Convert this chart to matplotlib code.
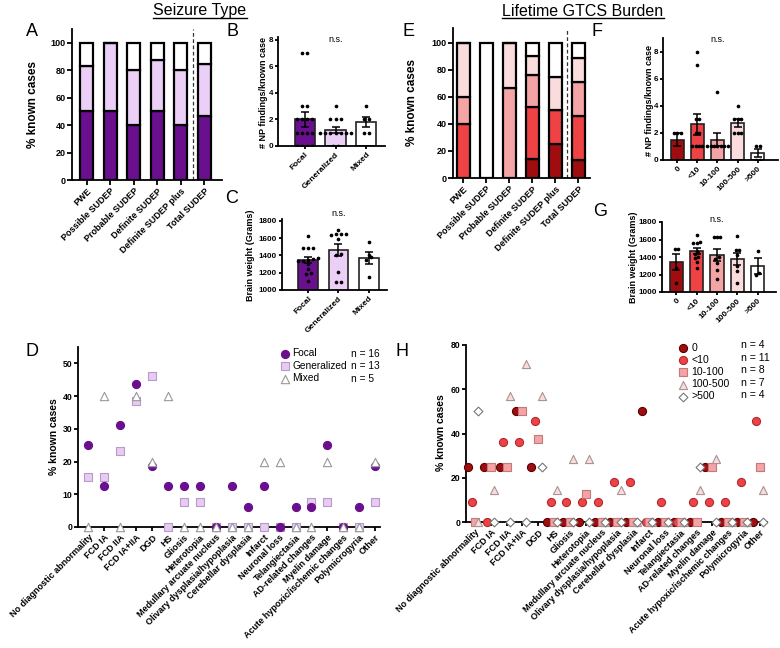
import numpy as np
import matplotlib
matplotlib.use("Agg")
import matplotlib.pyplot as plt
from matplotlib.lines import Line2D

plt.rcParams["font.family"] = ["Liberation Sans", "DejaVu Sans"]

W, H = 780, 648

# ---------------- data ----------------
stages = ["PWE", "Possible SUDEP", "Probable SUDEP", "Definite SUDEP",
          "Definite SUDEP plus", "Total SUDEP"]

# panel A: % known cases by seizure type
a_focal = [50.0, 50.0, 40.0, 50.0, 40.0, 46.4]
a_gen = [33.3, 50.0, 40.0, 37.5, 40.0, 38.2]
a_mixed = [16.7, 0.0, 20.0, 12.5, 20.0, 15.4]

seiz_types = ["Focal", "Generalized", "Mixed"]
# panel B: NP findings per known case
b_focal = [7, 7, 3, 3, 2, 2, 2, 2, 1, 1, 1, 1, 0, 0, 0, 0]
b_gen = [3, 2, 2, 2, 1, 1, 1, 1, 1, 1, 1, 0, 0]
b_mixed = [3, 2, 2, 1, 1]
# panel C: brain weight (g)
c_focal = [1620, 1480, 1480, 1480, 1370, 1360, 1350, 1340, 1340, 1300,
           1240, 1200, 1180, 1100]
c_gen = [1690, 1650, 1650, 1650, 1640, 1590, 1410, 1400, 1210, 1090, 1090]
c_mixed = [1560, 1400, 1380, 1350, 1150]

findings = ["No diagnostic abnormality", "FCD IA", "FCD IIA", "FCD IA+IIA",
            "DGD", "HS", "Gliosis", "Heterotopia", "Medullary arcuate nucleus",
            "Olivary dysplasia/hypoplasia", "Cerebellar dysplasia", "Infarct",
            "Neuronal loss", "Telangiectasia", "AD-related changes",
            "Myelin damage", "Acute hypoxic/ischemic changes",
            "Polymicrogyria", "Other"]

# panel D
d_focal = [25, 12.5, 31.25, 43.75, 18.75, 12.5, 12.5, 12.5, 0, 12.5, 6.25,
           12.5, 0, 6.25, 6.25, 25, 0, 6.25, 18.75]
d_gen = [15.38, 15.38, 23.08, 38.46, 46.15, 0, 7.69, 7.69, 0, 0, 0, 0, 0, 0,
         7.69, 7.69, 0, 0, 7.69]
d_mixed = [0, 40, 0, 40, 20, 40, 0, 0, 0, 0, 0, 20, 20, 0, 0, 20, 0, 0, 20]
d_n = [16, 13, 5]

burden = ["0", "<10", "10-100", "100-500", ">500"]
# panel E: % known cases by lifetime GTCS burden (columns follow `burden`)
e_vals = [
    [0, 40, 20, 40, 0],
    [0, 0, 0, 0, 100],
    [0, 0, 66.7, 33.3, 0],
    [14.3, 38.1, 23.8, 14.3, 9.5],
    [25, 25, 0, 25, 25],
    [13.3, 32.5, 25, 18.2, 11.0],
]
# panel F
f_pts = [
    [2, 2, 2, 0],
    [8, 7, 3, 3, 2, 2, 1, 1, 1, 1, 0],
    [5, 1, 1, 1, 1, 1, 1, 1],
    [4, 3, 3, 3, 2, 2, 2],
    [1, 1, 0, 0],
]
# panel G
g_pts = [
    [1490, 1490, 1280, 1100],
    [1650, 1570, 1560, 1560, 1470, 1450, 1430, 1400, 1390, 1340, 1280],
    [1630, 1630, 1630, 1400, 1380, 1330, 1250, 1150],
    [1640, 1480, 1480, 1420, 1300, 1240, 1100],
    [1470, 1220, 1200],
]
# panel H
h_vals = [
    [25, 25, 25, 50, 25, 0, 0, 0, 0, 0, 0, 50, 0, 0, 0, 25, 0, 0, 0],
    [9.09, 0, 36.36, 36.36, 45.45, 9.09, 9.09, 9.09, 9.09, 18.18, 18.18, 0,
     9.09, 0, 9.09, 9.09, 9.09, 18.18, 45.45],
    [0, 25, 25, 50, 37.5, 0, 0, 12.5, 0, 0, 0, 0, 0, 0, 0, 25, 0, 0, 25],
    [0, 14.29, 57.14, 71.43, 57.14, 14.29, 28.57, 28.57, 0, 14.29, 0, 0, 0, 0,
     14.29, 28.57, 0, 0, 14.29],
    [50, 0, 0, 0, 25, 0, 0, 0, 0, 0, 0, 0, 0, 0, 25, 0, 0, 0, 0],
]
h_n = [4, 11, 8, 7, 4]

# ---------------- style ----------------
purple = "#6A0F8E"
lavender = "#EBCFF7"
seiz_cols = [purple, lavender, "white"]
red_cols = ["#A00D10", "#EF4245", "#F5A4A6", "#FADCDD", "white"]
red_edges = ["#5A0000", "#B02A2D", "#C47A7D", "#A89496", "#777777"]
red_markers = ["o", "o", "s", "^", "D"]
h_offsets = [-0.44, -0.22, 0.0, 0.21, 0.21]

fig = plt.figure(figsize=(W / 100, H / 100), dpi=100)


def add_ax(x0, y0, x1, y1):
    return fig.add_axes([x0 / W, 1 - y1 / H, (x1 - x0) / W, (y1 - y0) / H])


def style(ax, fs=6.5, tl=3.5):
    for s in ["top", "right"]:
        ax.spines[s].set_visible(False)
    for s in ["left", "bottom"]:
        ax.spines[s].set_linewidth(1.3)
    ax.tick_params(direction="out", length=tl, width=1.3, labelsize=fs, pad=1.2)
    for lab in ax.get_xticklabels() + ax.get_yticklabels():
        lab.set_fontweight("bold")


def rot_labels(ax, labels, fs=6.5):
    ax.set_xticklabels(labels, rotation=45, ha="right", rotation_mode="anchor",
                       fontsize=fs, fontweight="bold")


def ylab(text, xpx, ypx, fs=8):
    fig.text(xpx / W, 1 - ypx / H, text, rotation=90, ha="center", va="center",
             fontsize=fs, fontweight="bold")


def letter(text, xpx, ypx):
    fig.text(xpx / W, 1 - ypx / H, text, ha="center", va="center", fontsize=13)


def swarm(vals, step, tol):
    vals = np.asarray(vals, float)
    order = np.argsort(vals)
    offs = np.zeros(len(vals))
    groups, cur = [], [order[0]]
    for i in order[1:]:
        if vals[i] - vals[cur[0]] <= tol:
            cur.append(i)
        else:
            groups.append(cur)
            cur = [i]
    groups.append(cur)
    for g in groups:
        n = len(g)
        for k, idx in enumerate(g):
            offs[idx] = (k - (n - 1) / 2) * step
    return offs


def bar_dots(ax, groups, cols, step, tol, width=0.65):
    x = np.arange(len(groups))
    means = [np.mean(g) for g in groups]
    sems = [np.std(g, ddof=1) / np.sqrt(len(g)) for g in groups]
    ax.bar(x, means, width=width, color=cols, edgecolor="#222222", linewidth=1.2,
           zorder=1)
    ax.errorbar(x, means, yerr=sems, fmt="none", ecolor="black", elinewidth=1.1,
                capsize=3, capthick=1.1, zorder=3)
    for i, g in enumerate(groups):
        ax.scatter(i + swarm(g, step, tol), g, s=7, color="black", zorder=4,
                   linewidths=0)


# ---------------- panel A ----------------
ax = add_ax(72, 29, 222, 180)
x = np.arange(len(stages))
bottom = np.zeros(len(stages))
for vals, c in zip([a_focal, a_gen, a_mixed], seiz_cols):
    ax.bar(x, vals, bottom=bottom, width=0.56, color=c, edgecolor="black",
           linewidth=1.6)
    bottom += np.array(vals)
ax.axvline(4.5, color="#333333", lw=0.9, ls=(0, (3, 2)))
ax.set_xlim(-0.63, 5.75)
ax.set_ylim(0, 110)
ax.set_yticks([0, 20, 40, 60, 80, 100])
ax.set_xticks(x)
style(ax)
rot_labels(ax, stages)

# ---------------- panel B ----------------
ax = add_ax(278, 37, 385, 146)
bar_dots(ax, [b_focal, b_gen, b_mixed], seiz_cols, 0.17, 0.01)
ax.set_xlim(-0.86, 2.6)
ax.set_ylim(0, 8.2)
ax.set_yticks([0, 2, 4, 6, 8])
ax.set_xticks(range(3))
ax.text(1, 8.0, "n.s.", ha="center", va="center", fontsize=6.5)
style(ax, 5.8, 2.5)
rot_labels(ax, seiz_types, 6)

# ---------------- panel C ----------------
ax = add_ax(282, 219, 387, 290)
bar_dots(ax, [c_focal, c_gen, c_mixed], seiz_cols, 0.17, 30)
ax.set_xlim(-0.86, 2.6)
ax.set_ylim(1000, 1820)
ax.set_yticks([1000, 1200, 1400, 1600, 1800])
ax.set_xticks(range(3))
ax.text(1, 1880, "n.s.", ha="center", va="center", fontsize=6.5)
style(ax, 5.8, 2.5)
rot_labels(ax, seiz_types, 6)

# ---------------- panel D ----------------
ax = add_ax(78, 347, 380, 527)
xd = np.arange(len(findings))
ax.scatter(xd, d_gen, marker="s", s=30, color="#E7CBF2", edgecolors="#B89CC8",
           linewidths=0.8, zorder=3, label="Generalized", clip_on=False)
ax.scatter(xd, d_focal, marker="o", s=34, color=purple, edgecolors=purple,
           linewidths=0.8, zorder=4, label="Focal", clip_on=False)
ax.scatter(xd, d_mixed, marker="^", s=36, color="white", edgecolors="#999999",
           linewidths=0.8, zorder=5, label="Mixed", clip_on=False)
ax.set_xlim(-0.65, 18.3)
ax.set_ylim(0, 55)
ax.set_yticks([0, 10, 20, 30, 40, 50])
ax.set_xticks(xd)
style(ax, 6.2, 3)
rot_labels(ax, findings, fs=6.5)
h, l = ax.get_legend_handles_labels()
order = [1, 0, 2]
ax.legend([h[i] for i in order], [l[i] for i in order], loc="upper left",
          bbox_to_anchor=(0.655, 1.015), frameon=False, fontsize=7.3,
          handletextpad=0.25, labelspacing=0.25, borderaxespad=0,
          handlelength=1.0)
for i, n in enumerate(d_n):
    ax.text(0.905, 0.96 - i * 0.068, f"n = {n}", transform=ax.transAxes,
            fontsize=7.3, va="center", ha="left")

# ---------------- panel E ----------------
ax = add_ax(453, 28, 590, 178)
bottom = np.zeros(len(stages))
e_arr = np.array(e_vals)
for j, c in enumerate(red_cols):
    ax.bar(x, e_arr[:, j], bottom=bottom, width=0.56, color=c,
           edgecolor="black", linewidth=1.6)
    bottom += e_arr[:, j]
ax.axvline(4.5, color="#333333", lw=0.9, ls=(0, (3, 2)))
ax.set_xlim(-0.45, 5.5)
ax.set_ylim(0, 111)
ax.set_yticks([0, 20, 40, 60, 80, 100])
ax.set_xticks(x)
style(ax)
rot_labels(ax, stages)

# ---------------- panel F ----------------
ax = add_ax(663, 38, 778, 160)
bar_dots(ax, f_pts, red_cols, 0.17, 0.01)
ax.set_xlim(-0.7, 5.0)
ax.set_ylim(0, 9)
ax.set_yticks([0, 2, 4, 6, 8])
ax.set_xticks(range(5))
ax.text(2, 8.9, "n.s.", ha="center", va="center", fontsize=6.5)
style(ax, 5.8, 2.5)
rot_labels(ax, burden, 6)

# ---------------- panel G ----------------
ax = add_ax(662, 222, 776, 292)
bar_dots(ax, g_pts, red_cols, 0.17, 30)
ax.set_xlim(-0.7, 4.9)
ax.set_ylim(1000, 1800)
ax.set_yticks([1000, 1200, 1400, 1600, 1800])
ax.set_xticks(range(5))
ax.text(2, 1830, "n.s.", ha="center", va="center", fontsize=6.5)
style(ax, 5.8, 2.5)
rot_labels(ax, burden, 6)

# ---------------- panel H ----------------
ax = add_ax(466, 345, 767, 522)
xh = np.arange(len(findings))
sizes = [34, 34, 30, 34, 20]
for j in [2, 3, 1, 0, 4]:
    ax.scatter(xh + h_offsets[j], h_vals[j], marker=red_markers[j], s=sizes[j],
               color=red_cols[j], edgecolors=red_edges[j], linewidths=0.8,
               zorder=3 + j, label=burden[j], clip_on=False)
ax.set_xlim(-0.57, 18.45)
ax.set_ylim(0, 80)
ax.set_yticks([0, 20, 40, 60, 80])
ax.set_xticks(xh)
style(ax, 6.2, 3)
rot_labels(ax, findings, fs=6.5)
h, l = ax.get_legend_handles_labels()
hl = dict(zip(l, h))
ax.legend([hl[b] for b in burden], burden, loc="upper left",
          bbox_to_anchor=(0.69, 1.035), frameon=False, fontsize=7.6,
          handletextpad=0.3, labelspacing=0.2, borderaxespad=0,
          handlelength=1.0)
for i, n in enumerate(h_n):
    ax.text(0.915, 1.0 - i * 0.071, f"n = {n}", transform=ax.transAxes,
            fontsize=7.6, va="center", ha="left")

# ---------------- labels ----------------
ylab("% known cases", 33, 105, 8.5)
ylab("# NP findings/known case", 264, 92, 6.5)
ylab("Brain weight (Grams)", 250, 255, 6.5)
ylab("% known cases", 54, 437, 7.5)
ylab("% known cases", 412, 103, 8.5)
ylab("# NP findings/known case", 649, 100, 6.5)
ylab("Brain weight (Grams)", 633, 257, 6.5)
ylab("% known cases", 441, 433, 7.5)

for t, px, py in [("A", 32, 31), ("B", 232, 31), ("C", 232, 199),
                  ("D", 32, 352), ("E", 408, 31), ("F", 597, 31),
                  ("G", 600, 211), ("H", 402, 351)]:
    letter(t, px, py)

titles = [fig.text(200 / W, 1 - 11 / H, "Seizure Type", ha="center", va="center",
                   fontsize=11.5),
          fig.text(583 / W, 1 - 11 / H, "Lifetime GTCS Burden", ha="center",
                   va="center", fontsize=11.5)]
fig.canvas.draw()
r = fig.canvas.get_renderer()
for t in titles:
    bb = t.get_window_extent(r)
    y = (bb.y0 + 0.5) / H
    fig.add_artist(Line2D([bb.x0 / W, bb.x1 / W], [y, y], color="black", lw=1.0))

fig.savefig("out.png", dpi=100)
